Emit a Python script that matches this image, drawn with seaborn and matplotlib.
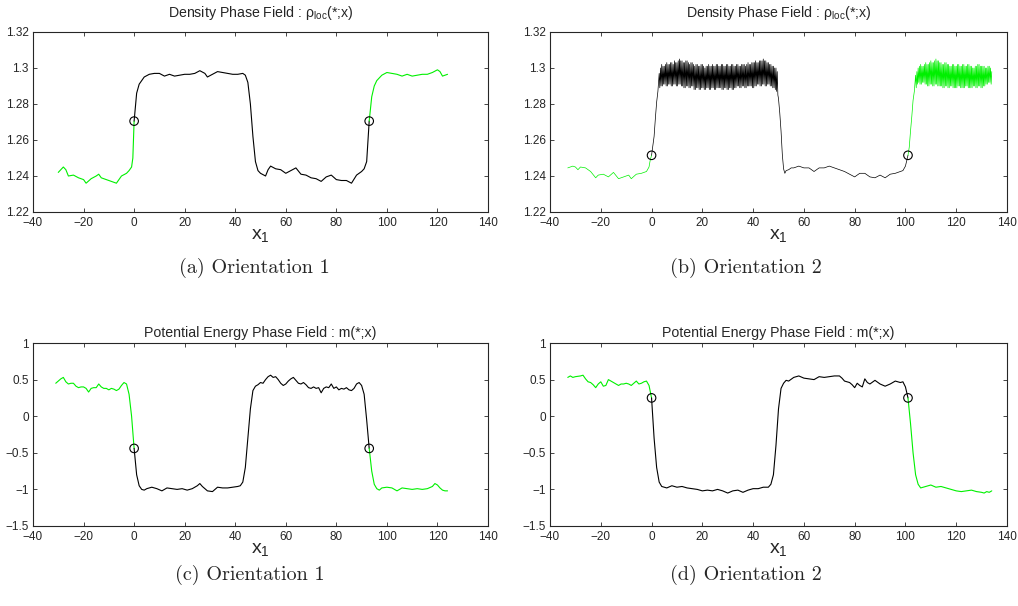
import numpy as np
import pandas as pd
import matplotlib
matplotlib.use("Agg")
import matplotlib.pyplot as plt
import seaborn as sns

# ---- panel (a): density, orientation 1 ----
a_x = [-30, -28, -27, -26, -24, -22, -20, -19, -17, -15, -14, -13, -11, -10, -8, -7, -5, -3, -2, -1, -0.5, 0,
       1, 2, 3, 4, 6, 8, 10, 12, 14, 16, 18, 20, 22, 24, 26, 28, 29, 31, 33, 35, 37, 39, 41, 43, 44,
       45, 46, 47, 48, 49, 50, 52, 53, 54, 56, 58, 60, 62, 64, 66, 68, 70, 72, 74, 76, 78, 80, 82, 84,
       86, 88, 90, 91, 92, 93,
       94, 95, 96, 98, 100, 102, 104, 106, 108, 110, 112, 114, 116, 118, 120, 121, 122, 123, 124]
a_y = [1.242, 1.245, 1.2435, 1.240, 1.2405, 1.239, 1.238, 1.236, 1.2385, 1.240, 1.241, 1.239, 1.238, 1.2375,
       1.2365, 1.236, 1.240, 1.2415, 1.243, 1.245, 1.250, 1.2705,
       1.286, 1.291, 1.293, 1.295, 1.2965, 1.297, 1.297, 1.2955, 1.2965, 1.2955, 1.296, 1.2965, 1.2965,
       1.297, 1.2985, 1.297, 1.295, 1.2965, 1.298, 1.2975, 1.297, 1.2965, 1.2965, 1.297, 1.296,
       1.292, 1.280, 1.262, 1.248, 1.243, 1.2415, 1.240, 1.2435, 1.2455, 1.244, 1.2435, 1.2415, 1.243,
       1.2445, 1.241, 1.2405, 1.239, 1.2385, 1.237, 1.2395, 1.2405, 1.238, 1.2375, 1.2375,
       1.236, 1.2405, 1.2425, 1.244, 1.248, 1.2705,
       1.284, 1.290, 1.293, 1.296, 1.2975, 1.297, 1.2965, 1.2955, 1.2965, 1.2955, 1.296, 1.2965, 1.2965,
       1.2975, 1.299, 1.298, 1.2955, 1.296, 1.2965]
a_xc = 93

# ---- panel (b): density, orientation 2 ----
b_x_left = [-33, -31, -30, -29, -28, -26, -24, -22, -21, -19, -17, -15, -13, -11, -9, -8, -6, -4, -2, -1, -0.5]
b_y_left = [1.2445, 1.2455, 1.245, 1.2435, 1.245, 1.2445, 1.2425, 1.239, 1.2405, 1.241, 1.2395, 1.242,
            1.2385, 1.2395, 1.2405, 1.2385, 1.241, 1.2415, 1.2425, 1.245, 1.249]
b_x_rise = [0, 1, 1.5, 2, 2.5]
b_y_rise = [1.2515, 1.262, 1.272, 1.281, 1.287]
# oscillating plateau: crests at 3, 3.5, ... and troughs a quarter unit later
b_x_top = np.arange(3, 50, 0.25)
b_top_hi = [1.297, 1.300, 1.302, 1.301, 1.301, 1.302, 1.303, 1.302, 1.302, 1.303, 1.303, 1.302,
            1.304, 1.303, 1.303, 1.304, 1.305, 1.304, 1.304, 1.303, 1.303, 1.304, 1.304, 1.303,
            1.302, 1.303, 1.303, 1.302, 1.301, 1.302, 1.302, 1.301, 1.301, 1.302, 1.302, 1.301,
            1.300, 1.301, 1.301, 1.302, 1.301, 1.301, 1.302, 1.301, 1.301, 1.302, 1.302, 1.301,
            1.301, 1.302, 1.302, 1.301, 1.301, 1.302, 1.302, 1.301, 1.301, 1.302, 1.302, 1.301,
            1.301, 1.302, 1.302, 1.301, 1.301, 1.302, 1.302, 1.302, 1.301, 1.302, 1.303, 1.302,
            1.302, 1.303, 1.303, 1.303, 1.304, 1.303, 1.303, 1.304, 1.304, 1.304, 1.305, 1.304,
            1.304, 1.303, 1.303, 1.302, 1.302, 1.301, 1.301, 1.300, 1.300, 1.298]
b_top_lo = [1.289, 1.290, 1.290, 1.291, 1.291, 1.290, 1.290, 1.291, 1.291, 1.290, 1.290, 1.291,
            1.291, 1.290, 1.290, 1.291, 1.291, 1.290, 1.290, 1.289, 1.289, 1.290, 1.290, 1.289,
            1.289, 1.290, 1.290, 1.288, 1.288, 1.289, 1.289, 1.288, 1.288, 1.289, 1.289, 1.288,
            1.288, 1.289, 1.289, 1.288, 1.288, 1.289, 1.289, 1.288, 1.288, 1.289, 1.289, 1.289,
            1.289, 1.288, 1.288, 1.289, 1.289, 1.288, 1.288, 1.289, 1.289, 1.288, 1.288, 1.289,
            1.289, 1.290, 1.290, 1.289, 1.289, 1.290, 1.290, 1.289, 1.289, 1.290, 1.290, 1.290,
            1.290, 1.289, 1.289, 1.290, 1.290, 1.291, 1.291, 1.290, 1.290, 1.291, 1.291, 1.290,
            1.290, 1.291, 1.291, 1.290, 1.290, 1.289, 1.289, 1.288, 1.287, 1.285]
b_x_low = [50, 50.5, 51, 51.5, 52, 52.5, 53, 54, 55, 56, 58, 60, 62, 64, 66, 68, 70, 72, 74, 76, 78,
           80, 82, 84, 86, 88, 90, 92, 94, 96, 98, 99, 100, 101]
b_y_low = [1.283, 1.275, 1.265, 1.252, 1.244, 1.2415, 1.243, 1.2435, 1.2445, 1.2445, 1.2455, 1.2445,
           1.2445, 1.2425, 1.2445, 1.2445, 1.2455, 1.2445, 1.2435, 1.2425, 1.241, 1.2395, 1.2415,
           1.2415, 1.2395, 1.239, 1.2405, 1.239, 1.241, 1.2415, 1.2425, 1.243, 1.2455, 1.2515]
b_x_rise2 = [101.5, 102, 102.5, 103, 103.5]
b_y_rise2 = [1.256, 1.265, 1.273, 1.282, 1.287]
b_x_top2 = np.arange(104, 134, 0.25)
b_top2_hi = [1.296, 1.298, 1.300, 1.301, 1.302, 1.301, 1.301, 1.302, 1.303, 1.302, 1.302, 1.303,
             1.304, 1.303, 1.303, 1.304, 1.305, 1.304, 1.304, 1.303, 1.303, 1.302, 1.302, 1.303,
             1.303, 1.302, 1.302, 1.301, 1.301, 1.302, 1.302, 1.301, 1.301, 1.302, 1.302, 1.301,
             1.301, 1.302, 1.302, 1.301, 1.301, 1.302, 1.302, 1.301, 1.301, 1.300, 1.300, 1.301,
             1.301, 1.302, 1.302, 1.301, 1.301, 1.301, 1.301, 1.300, 1.300, 1.301, 1.301, 1.300]
b_top2_lo = [1.289, 1.291, 1.292, 1.291, 1.291, 1.292, 1.292, 1.291, 1.291, 1.290, 1.290, 1.291,
             1.291, 1.290, 1.290, 1.291, 1.291, 1.290, 1.290, 1.290, 1.290, 1.289, 1.289, 1.290,
             1.290, 1.289, 1.289, 1.290, 1.290, 1.289, 1.289, 1.289, 1.289, 1.290, 1.290, 1.289,
             1.289, 1.289, 1.289, 1.290, 1.290, 1.289, 1.289, 1.289, 1.289, 1.290, 1.290, 1.289,
             1.289, 1.290, 1.290, 1.289, 1.289, 1.290, 1.290, 1.291, 1.291, 1.292, 1.292, 1.291]
b_x_end = [134]
b_y_end = [1.298]
b_xc = 101

# ---- panel (c): potential energy, orientation 1 ----
c_x = [-31, -29, -28, -27, -26, -25, -24, -23, -22, -21, -20, -19, -18, -17, -16, -15, -14, -13, -12,
       -11, -10, -9, -8, -7, -6, -5, -4, -3, -2, -1, 0,
       1, 2, 3, 4, 5, 7, 9, 11, 13, 15, 17, 19, 21, 23, 25, 26, 27, 29, 31, 33, 35, 37, 39, 41, 42,
       43, 44, 45, 46, 47, 48, 49, 50, 51, 52, 53, 54, 55, 56, 57, 58, 59, 60, 61, 62, 63, 64, 65,
       66, 67, 68, 69, 70, 71, 72, 73, 74, 75, 76, 77, 78, 79, 80, 81, 82, 83, 84, 85, 86, 87, 88,
       89, 90, 91, 92, 93,
       94, 95, 96, 97, 98, 100, 102, 104, 106, 108, 110, 112, 114, 116, 118, 119, 120, 121, 122, 123, 124]
c_y = [0.45, 0.51, 0.53, 0.47, 0.44, 0.45, 0.45, 0.41, 0.39, 0.40, 0.40, 0.38, 0.33, 0.38, 0.39, 0.39,
       0.44, 0.40, 0.38, 0.38, 0.36, 0.38, 0.37, 0.35, 0.37, 0.42, 0.46, 0.44, 0.30, 0.0, -0.44,
       -0.80, -0.95, -1.00, -1.01, -0.99, -0.97, -0.99, -1.02, -0.98, -0.99, -1.00, -0.99, -1.01,
       -0.99, -0.95, -0.92, -0.96, -1.02, -1.03, -0.97, -0.98, -0.98, -0.97, -0.96, -0.95,
       -0.90, -0.70, -0.30, 0.10, 0.35, 0.41, 0.43, 0.46, 0.45, 0.50, 0.54, 0.56, 0.53, 0.54, 0.50,
       0.45, 0.42, 0.44, 0.48, 0.51, 0.53, 0.49, 0.45, 0.44, 0.46, 0.43, 0.39, 0.38, 0.40, 0.38,
       0.39, 0.32, 0.38, 0.40, 0.39, 0.44, 0.38, 0.40, 0.36, 0.38, 0.37, 0.39, 0.36, 0.35, 0.38,
       0.44, 0.46, 0.42, 0.30, -0.05, -0.44,
       -0.75, -0.93, -0.99, -1.01, -0.98, -0.97, -0.98, -1.02, -0.98, -0.99, -1.00, -0.99, -1.00,
       -0.99, -0.96, -0.92, -0.94, -0.98, -1.01, -1.02, -1.02]
c_xc = 93

# ---- panel (d): potential energy, orientation 2 ----
d_x = [-33, -32, -31, -30, -28, -27, -26, -25, -24, -23, -22, -21, -20, -19, -18, -17, -16, -15, -14,
       -13, -12, -11, -10, -9, -8, -7, -6, -5, -4, -3, -2, -1, 0,
       1, 2, 3, 4, 5, 6, 8, 10, 12, 14, 16, 18, 20, 22, 24, 26, 28, 30, 32, 34, 36, 38, 40, 42, 44,
       46, 47, 48, 49, 50, 51, 52, 53, 54, 56, 58, 60, 62, 64, 66, 68, 70, 72, 74, 75, 76, 78, 79,
       80, 81, 82, 83, 84, 85, 86, 88, 90, 92, 94, 96, 98, 99, 100, 101,
       102, 103, 104, 105, 106, 108, 110, 112, 114, 116, 118, 120, 122, 124, 126, 128, 130, 131,
       132, 133, 134]
d_y = [0.53, 0.55, 0.53, 0.54, 0.55, 0.56, 0.51, 0.47, 0.46, 0.43, 0.39, 0.44, 0.47, 0.41, 0.42, 0.50,
       0.48, 0.46, 0.44, 0.42, 0.44, 0.44, 0.45, 0.44, 0.42, 0.45, 0.48, 0.44, 0.45, 0.47, 0.48,
       0.42, 0.25,
       -0.30, -0.70, -0.90, -0.96, -0.97, -0.98, -0.95, -0.97, -0.96, -0.98, -0.99, -1.00, -1.02,
       -1.01, -1.02, -1.00, -1.02, -1.05, -1.02, -1.01, -1.04, -1.01, -0.99, -0.99, -0.97,
       -0.97, -0.93, -0.80, -0.40, 0.10, 0.38, 0.45, 0.49, 0.48, 0.53, 0.55, 0.52, 0.51, 0.50,
       0.54, 0.53, 0.54, 0.55, 0.55, 0.52, 0.48, 0.46, 0.43, 0.39, 0.45, 0.42, 0.40, 0.51, 0.46,
       0.44, 0.49, 0.44, 0.41, 0.44, 0.48, 0.46, 0.47, 0.40, 0.25,
       -0.10, -0.50, -0.80, -0.93, -0.98, -0.96, -0.94, -0.97, -0.96, -0.98, -1.00, -1.02, -1.03,
       -1.02, -1.01, -1.03, -1.04, -1.05, -1.03, -1.04, -1.02]
d_xc = 101

titles = ["Density Phase Field : $\\rho_{loc}$(*;x)", "Density Phase Field : $\\rho_{loc}$(*;x)",
          "Potential Energy Phase Field : m(*;x)", "Potential Energy Phase Field : m(*;x)"]
captions = ["(a) Orientation 1", "(b) Orientation 2", "(c) Orientation 1", "(d) Orientation 2"]
rho_ticks = [1.22, 1.24, 1.26, 1.28, 1.3, 1.32]
m_ticks = [-1.5, -1, -0.5, 0, 0.5, 1]
x_ticks = [-40, -20, 0, 20, 40, 60, 80, 100, 120, 140]

GREEN = "#00f000"

sns.set_style("ticks")
plt.rcParams["font.family"] = ["Liberation Sans", "DejaVu Sans"]
plt.rcParams["mathtext.default"] = "regular"


def fmt(v):
    return ("%g" % v).replace("-", "\u2212")


def draw_panel(ax, x, y, xc, title, yticks, tpad, lw=0.8):
    df = pd.DataFrame({"x": np.asarray(x, dtype=float), "y": np.asarray(y, dtype=float)})
    parts = [df[df.x <= 0].assign(part="left"),
             df[(df.x >= 0) & (df.x <= xc)].assign(part="mid"),
             df[df.x >= xc].assign(part="right")]
    long = pd.concat(parts, ignore_index=True)
    sns.lineplot(data=long, x="x", y="y", hue="part", estimator=None, sort=False,
                 palette={"left": GREEN, "mid": "black", "right": GREEN},
                 linewidth=lw, legend=False, ax=ax)
    marks = df[df.x.isin([0, xc])]
    sns.scatterplot(data=marks, x="x", y="y", marker="o", s=38, facecolor="none",
                    edgecolor="black", linewidth=0.8, zorder=5, ax=ax)
    ax.set_xlim(-40, 140)
    ax.set_ylim(yticks[0], yticks[-1])
    ax.set_xticks(x_ticks)
    ax.set_xticklabels([fmt(t) for t in x_ticks])
    ax.set_yticks(yticks)
    ax.set_yticklabels([fmt(t) for t in yticks])
    ax.tick_params(direction="in", top=True, right=True, labelsize=8.5, length=3, width=0.6)
    ax.tick_params(axis="x", pad=3.5)
    ax.tick_params(axis="y", pad=3)
    for sp in ax.spines.values():
        sp.set_visible(True)
        sp.set_linewidth(0.8)
    ax.set_title(title, fontsize=10.2, pad=tpad)
    ax.set_xlabel("x$_1$", fontsize=14, labelpad=-1)
    ax.set_ylabel("")


fig = plt.figure(figsize=(10.18, 6.06), dpi=100)
W, H = 1018, 606
boxes = [(33, 32, 488, 212), (550, 32, 1007, 212), (33, 343, 488, 526), (550, 343, 1007, 526)]
axes = [fig.add_axes([l / W, 1 - b / H, (r - l) / W, (b - t) / H]) for l, t, r, b in boxes]

b_y_top = np.column_stack([b_top_hi, b_top_lo]).ravel()
b_y_top2 = np.column_stack([b_top2_hi, b_top2_lo]).ravel()
b_x = list(b_x_left) + list(b_x_rise) + list(b_x_top) + list(b_x_low) + list(b_x_rise2) + list(b_x_top2) + b_x_end
b_y = list(b_y_left) + list(b_y_rise) + list(b_y_top) + list(b_y_low) + list(b_y_rise2) + list(b_y_top2) + b_y_end

draw_panel(axes[0], a_x, a_y, a_xc, titles[0], rho_ticks, 11)
draw_panel(axes[1], b_x, b_y, b_xc, titles[1], rho_ticks, 11, lw=0.5)
draw_panel(axes[2], c_x, c_y, c_xc, titles[2], m_ticks, 4.5)
draw_panel(axes[3], d_x, d_y, d_xc, titles[3], m_ticks, 4.5)

cap_pos = [(254, 268), (746, 268), (250, 575), (746, 575)]
for (cx, cy), cap in zip(cap_pos, captions):
    fig.text(cx / W, 1 - cy / H, cap, ha="center", va="center", fontsize=14.5, family="cmr10")

fig.savefig("out.png", dpi=100)
